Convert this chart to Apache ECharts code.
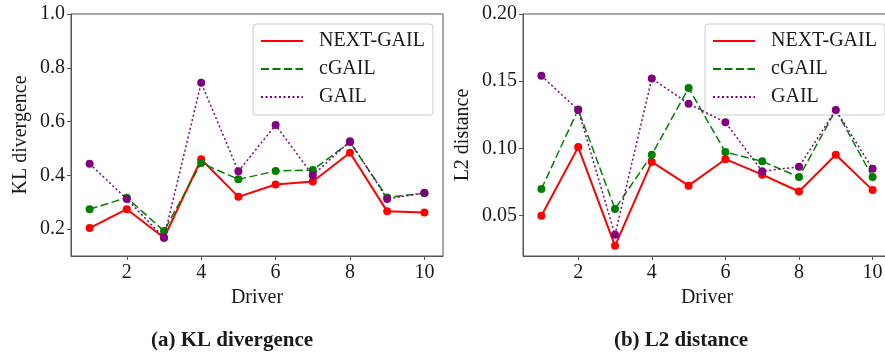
<!DOCTYPE html>
<html>
<head>
<meta charset="utf-8">
<script src="https://cdn.jsdelivr.net/npm/echarts@6/dist/echarts.min.js"></script>
<style>
html,body{margin:0;padding:0;background:#fff;}
#chart{width:885px;height:352px;}
</style>
</head>
<body>
<div id="chart"></div>
<script>
var drivers = [1, 2, 3, 4, 5, 6, 7, 8, 9, 10];
var seriesNames = ['NEXT-GAIL', 'cGAIL', 'GAIL'];
var klNext = [0.204, 0.274, 0.168, 0.460, 0.320, 0.366, 0.377, 0.484, 0.266, 0.262];
var klC    = [0.274, 0.317, 0.193, 0.446, 0.385, 0.416, 0.420, 0.523, 0.318, 0.333];
var klGail = [0.443, 0.312, 0.168, 0.744, 0.415, 0.587, 0.400, 0.527, 0.312, 0.335];
var l2Next = [0.050, 0.101, 0.0276, 0.090, 0.0723, 0.092, 0.0805, 0.068, 0.0953, 0.069];
var l2C    = [0.0698, 0.129, 0.055, 0.0953, 0.145, 0.0973, 0.0904, 0.0787, 0.1286, 0.0787];
var l2Gail = [0.154, 0.1286, 0.0358, 0.152, 0.1333, 0.1194, 0.083, 0.0864, 0.1286, 0.0849];
var xTicks = [2, 4, 6, 8, 10];
var klTicks = [0.2, 0.4, 0.6, 0.8, 1.0];
var l2Ticks = [0.05, 0.10, 0.15, 0.20];
var captions = ['(a) KL divergence', '(b) L2 distance'];
var yNames = ['KL divergence', 'L2 distance'];

var FONT = 'Liberation Serif';
var FS = 20;
var TXT = '#1a1a1a';
var AX = '#555';
var colors = ['#ff0000', '#008000', '#800080'];
var lineTypes = ['solid', [8, 3.5], [2, 2.5]];
var lineWidths = [2, 1.5, 1.5];

function pairs(vals) { return drivers.map(function (d, i) { return [d, vals[i]]; }); }

function xAxisCfg(idx) {
  return {
    type: 'value', gridIndex: idx, min: 0.5, max: 10.5,
    name: 'Driver', nameLocation: 'middle', nameGap: 26,
    nameTextStyle: { fontFamily: FONT, fontSize: FS, color: TXT },
    splitLine: { show: false },
    axisLine: { show: true, lineStyle: { color: AX, width: 1 } },
    axisTick: { show: true, length: 4, lineStyle: { color: AX }, customValues: xTicks },
    axisLabel: { fontFamily: FONT, fontSize: FS, color: TXT, margin: 7, customValues: xTicks }
  };
}
function yAxisCfg(idx, min, max, ticks, dec, gap) {
  return {
    type: 'value', gridIndex: idx, min: min, max: max,
    name: yNames[idx], nameLocation: 'middle', nameGap: gap,
    nameTextStyle: { fontFamily: FONT, fontSize: FS, color: TXT },
    splitLine: { show: false },
    axisLine: { show: true, lineStyle: { color: AX, width: 1 } },
    axisTick: { show: true, length: 4, lineStyle: { color: AX }, customValues: ticks },
    axisLabel: { fontFamily: FONT, fontSize: FS, color: TXT, margin: 6, customValues: ticks,
      formatter: function (v) { return v.toFixed(dec); } }
  };
}
function mkSeries(idx, datasets) {
  return datasets.map(function (vals, k) {
    return {
      type: 'line', name: seriesNames[k], xAxisIndex: idx, yAxisIndex: idx,
      data: pairs(vals), symbol: 'circle', symbolSize: 8, showSymbol: true,
      lineStyle: { color: colors[k], width: lineWidths[k], type: lineTypes[k] },
      itemStyle: { color: colors[k] },
      z: 2 + k, animation: false
    };
  });
}
function legendCfg(left) {
  return {
    orient: 'vertical', left: left, top: 24, data: seriesNames,
    itemWidth: 42, itemHeight: 3, itemGap: 8,
    padding: [7, 8, 8, 7],
    backgroundColor: 'rgba(255,255,255,0.8)', borderColor: '#cccccc', borderWidth: 1, borderRadius: 3,
    itemStyle: { opacity: 0 },
    textStyle: { fontFamily: FONT, fontSize: FS, color: TXT, lineHeight: 20, padding: [0, 0, 0, 11] },
    selectedMode: false
  };
}

var chart = echarts.init(document.getElementById('chart'), null, { renderer: 'canvas' });
chart.setOption({
  animation: false,
  backgroundColor: '#ffffff',
  title: [
    { text: captions[0], left: 227, top: 325, textAlign: 'center',
      textStyle: { fontFamily: FONT, fontSize: 21, fontWeight: 'bold', color: TXT } },
    { text: captions[1], left: 676, top: 325, textAlign: 'center',
      textStyle: { fontFamily: FONT, fontSize: 21, fontWeight: 'bold', color: TXT } }
  ],
  grid: [
    { left: 71, top: 14, width: 372, height: 242, show: true, borderColor: AX, borderWidth: 1,
      backgroundColor: 'transparent', outerBoundsMode: 'none', containLabel: false },
    { left: 523, top: 14, width: 368, height: 242, show: true, borderColor: AX, borderWidth: 1,
      backgroundColor: 'transparent', outerBoundsMode: 'none', containLabel: false }
  ],
  xAxis: [xAxisCfg(0), xAxisCfg(1)],
  yAxis: [yAxisCfg(0, 0.1, 1.0, klTicks, 1, 40), yAxisCfg(1, 0.02, 0.20, l2Ticks, 2, 50)],
  legend: [legendCfg(253), legendCfg(705)],
  series: mkSeries(0, [klNext, klC, klGail]).concat(mkSeries(1, [l2Next, l2C, l2Gail]))
});
</script>
</body>
</html>
